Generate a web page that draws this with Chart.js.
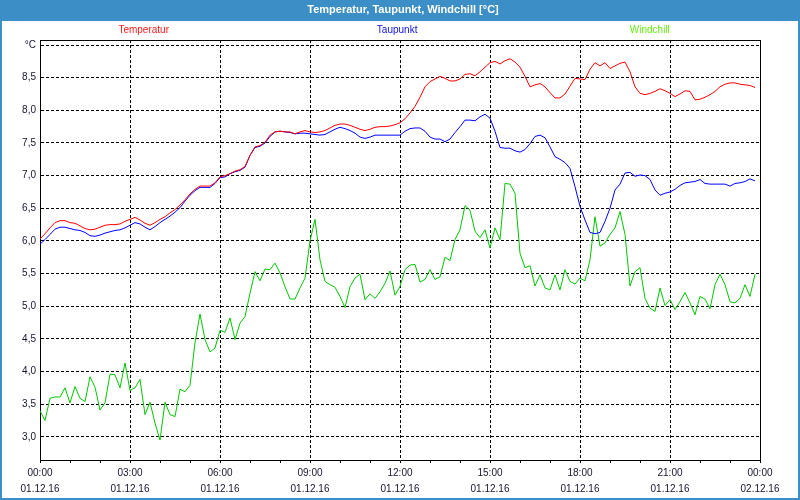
<!DOCTYPE html>
<html>
<head>
<meta charset="utf-8">
<script src="https://cdn.jsdelivr.net/npm/chart.js@4.4.1/dist/chart.umd.min.js"></script>
<style>
  html, body { margin: 0; padding: 0; background: #ffffff; }
  #wrap { position: relative; width: 800px; height: 500px; }
  canvas { display: block; }
</style>
</head>
<body>
<div id="wrap"><canvas id="c" width="800" height="500"></canvas></div>
<script>
// ---- data (10-minute samples, 01.12.16 00:00 .. 23:50) ----
const chartTitle = "Temperatur, Taupunkt, Windchill [°C]";
const seriesNames = ["Temperatur", "Taupunkt", "Windchill"];
const stepMinutes = 10;

const temperatur = [
  6.03, 6.11, 6.20, 6.28, 6.31, 6.31, 6.28, 6.27, 6.23, 6.19, 6.17, 6.18, 6.21, 6.24, 6.25, 6.25, 6.26, 6.30,
  6.33, 6.36, 6.32, 6.27, 6.24, 6.28, 6.33, 6.37, 6.43, 6.48, 6.55, 6.63, 6.72, 6.79, 6.84, 6.84, 6.84, 6.89,
  6.98, 7.00, 7.03, 7.07, 7.09, 7.14, 7.31, 7.44, 7.46, 7.51, 7.62, 7.67, 7.68, 7.67, 7.67, 7.64, 7.67, 7.69,
  7.67, 7.66, 7.67, 7.69, 7.73, 7.77, 7.79, 7.79, 7.77, 7.74, 7.71, 7.69, 7.71, 7.74, 7.75, 7.75, 7.76, 7.78,
  7.81, 7.87, 7.96, 8.06, 8.20, 8.36, 8.44, 8.48, 8.52, 8.49, 8.45, 8.45, 8.48, 8.55, 8.56, 8.53, 8.59, 8.66,
  8.73, 8.75, 8.71, 8.76, 8.79, 8.74, 8.66, 8.52, 8.36, 8.39, 8.41, 8.36, 8.27, 8.19, 8.19, 8.25, 8.37, 8.49,
  8.48, 8.47, 8.63, 8.73, 8.68, 8.73, 8.64, 8.68, 8.72, 8.74, 8.59, 8.36, 8.26, 8.24, 8.26, 8.29, 8.33, 8.30,
  8.26, 8.21, 8.25, 8.30, 8.29, 8.16, 8.17, 8.20, 8.24, 8.29, 8.36, 8.40, 8.42, 8.42, 8.40, 8.39, 8.38, 8.35
];
const taupunkt = [
  5.95, 6.02, 6.10, 6.18, 6.21, 6.21, 6.19, 6.17, 6.16, 6.13, 6.08, 6.07, 6.09, 6.12, 6.14, 6.16, 6.17, 6.20,
  6.24, 6.28, 6.26, 6.21, 6.17, 6.22, 6.28, 6.33, 6.38, 6.44, 6.51, 6.61, 6.70, 6.77, 6.82, 6.82, 6.82, 6.88,
  6.97, 6.98, 7.03, 7.06, 7.08, 7.13, 7.31, 7.43, 7.45, 7.50, 7.60, 7.67, 7.68, 7.67, 7.66, 7.64, 7.65, 7.65,
  7.64, 7.63, 7.62, 7.63, 7.67, 7.71, 7.74, 7.72, 7.69, 7.65, 7.59, 7.57, 7.59, 7.62, 7.62, 7.62, 7.62, 7.62,
  7.62, 7.68, 7.72, 7.73, 7.73, 7.68, 7.59, 7.56, 7.56, 7.52, 7.56, 7.66, 7.75, 7.85, 7.85, 7.84, 7.90, 7.94,
  7.88, 7.68, 7.43, 7.42, 7.42, 7.38, 7.36, 7.40, 7.49, 7.60, 7.62, 7.58, 7.44, 7.29, 7.25, 7.20, 7.11, 6.83,
  6.53, 6.32, 6.13, 6.11, 6.13, 6.30, 6.50, 6.78, 6.87, 7.04, 7.05, 6.99, 7.01, 7.00, 6.94, 6.78, 6.70, 6.73,
  6.75, 6.79, 6.85, 6.89, 6.90, 6.91, 6.94, 6.88, 6.87, 6.87, 6.87, 6.87, 6.84, 6.88, 6.89, 6.91, 6.95, 6.92
];
const windchill = [
  3.40, 3.25, 3.59, 3.61, 3.61, 3.75, 3.52, 3.77, 3.59, 3.54, 3.92, 3.76, 3.41, 3.52, 3.96, 3.95, 3.75, 4.13,
  3.71, 3.75, 3.88, 3.34, 3.53, 3.21, 2.95, 3.53, 3.34, 3.31, 3.73, 3.69, 3.79, 4.44, 4.88, 4.49, 4.30, 4.36,
  4.63, 4.60, 4.82, 4.49, 4.74, 4.84, 5.20, 5.53, 5.39, 5.57, 5.56, 5.66, 5.51, 5.30, 5.11, 5.11, 5.28, 5.43,
  6.00, 6.33, 5.71, 5.38, 5.33, 5.29, 5.15, 4.98, 5.30, 5.43, 5.49, 5.10, 5.19, 5.12, 5.22, 5.35, 5.54, 5.17,
  5.30, 5.56, 5.63, 5.64, 5.37, 5.41, 5.56, 5.41, 5.45, 5.75, 5.70, 6.02, 6.17, 6.54, 6.47, 6.15, 6.05, 6.17,
  5.89, 6.20, 6.02, 6.88, 6.87, 6.73, 5.81, 5.59, 5.62, 5.31, 5.48, 5.28, 5.25, 5.48, 5.25, 5.56, 5.38, 5.34,
  5.43, 5.39, 5.71, 6.37, 5.92, 5.97, 6.10, 6.20, 6.45, 6.10, 5.31, 5.53, 5.59, 5.12, 4.97, 4.92, 5.28, 5.01,
  5.10, 4.95, 5.07, 5.21, 5.05, 4.87, 5.15, 5.11, 4.96, 5.33, 5.49, 5.33, 5.07, 5.05, 5.12, 5.33, 5.15, 5.49
];

const xTickHours = [0,1,2,3,4,5,6,7,8,9,10,11,12,13,14,15,16,17,18,19,20,21,22,23,24];
const xTickLabels = [
  ["00:00","01.12.16"], ["03:00","01.12.16"], ["06:00","01.12.16"], ["09:00","01.12.16"],
  ["12:00","01.12.16"], ["15:00","01.12.16"], ["18:00","01.12.16"], ["21:00","01.12.16"],
  ["00:00","02.12.16"]
];
const yTicks = [3.0, 3.5, 4.0, 4.5, 5.0, 5.5, 6.0, 6.5, 7.0, 7.5, 8.0, 8.5, 9.0];
const yUnitLabel = "°C";

// ---- build ----
const toPoints = arr => arr.map((v, i) => ({ x: i * stepMinutes / 60, y: v }));

const FONT = "'Liberation Sans', 'DejaVu Sans', sans-serif";
const BLUE_FRAME = '#3c8fc6';

const framePlugin = {
  id: 'frame',
  beforeDraw(chart) {
    const ctx = chart.ctx;
    ctx.save();
    ctx.fillStyle = '#ffffff';
    ctx.fillRect(0, 0, chart.width, chart.height);
    ctx.fillStyle = BLUE_FRAME;
    ctx.fillRect(0, 0, chart.width, 21);
    ctx.restore();
  },
  afterDraw(chart) {
    const ctx = chart.ctx;
    const a = chart.chartArea;
    ctx.save();
    ctx.strokeStyle = '#000';
    ctx.lineWidth = 1;
    ctx.beginPath();
    ctx.moveTo(Math.round(a.left) + 0.5, Math.round(a.top) + 0.5);
    ctx.lineTo(Math.round(a.right) + 0.5, Math.round(a.top) + 0.5);
    ctx.lineTo(Math.round(a.right) + 0.5, Math.round(a.bottom) + 0.5);
    ctx.stroke();
    ctx.strokeStyle = BLUE_FRAME;
    ctx.lineWidth = 2;
    ctx.strokeRect(1, 1, chart.width - 2, chart.height - 2);
    ctx.fillStyle = '#ffffff';
    ctx.font = "bold 11px 'Liberation Sans Narrow', 'Liberation Sans', sans-serif";
    ctx.textAlign = 'center';
    ctx.textBaseline = 'middle';
    ctx.fillText(chartTitle, 403, 10);
    const cols = ['#ff1a1a', '#1010e0', '#66ee11'];
    const fr = [0.144, 0.496, 0.847];
    ctx.font = "10px 'Liberation Sans Narrow', 'Liberation Sans', sans-serif";
    seriesNames.forEach((n, i) => {
      ctx.fillStyle = cols[i];
      ctx.fillText(n, a.left + (a.right - a.left) * fr[i], 30);
    });
    ctx.restore();
  }
};

new Chart(document.getElementById('c'), {
  type: 'line',
  data: {
    datasets: [
      { label: seriesNames[0], data: toPoints(temperatur), borderColor: '#ff0000', borderWidth: 1, pointRadius: 0, tension: 0 },
      { label: seriesNames[1], data: toPoints(taupunkt), borderColor: '#0000ff', borderWidth: 1, pointRadius: 0, tension: 0 },
      { label: seriesNames[2], data: toPoints(windchill), borderColor: '#00c800', borderWidth: 1, pointRadius: 0, tension: 0 }
    ]
  },
  options: {
    responsive: false,
    animation: false,
    events: [],
    layout: { padding: { top: 40, right: 40, left: 0, bottom: 0 } },
    plugins: { legend: { display: false }, title: { display: false }, tooltip: { enabled: false } },
    scales: {
      x: {
        type: 'linear',
        min: 0, max: 24,
        afterFit(scale) { scale.height = 40; },
        afterBuildTicks(scale) { scale.ticks = xTickHours.map(v => ({ value: v })); },
        ticks: {
          autoSkip: false, maxRotation: 0, minRotation: 0, padding: 2,
          color: '#151530',
          font: { family: FONT, size: 10, lineHeight: 1.6 },
          callback: (v) => (v % 3 === 0 ? xTickLabels[v / 3] : '')
        },
        grid: {
          color: (ctx) => (ctx.tick && ctx.tick.value % 3 === 0 ? '#000000' : 'rgba(0,0,0,0)'),
          lineWidth: 1,
          drawTicks: true, tickLength: 3, tickColor: '#000000', tickWidth: 1
        },
        border: { display: true, color: '#000000', width: 1, dash: [3, 2] }
      },
      y: {
        type: 'linear',
        min: 2.645, max: 9.077,
        afterFit(scale) { scale.width = 40; },
        afterBuildTicks(scale) { scale.ticks = yTicks.map(v => ({ value: v })); },
        ticks: {
          padding: 4,
          color: '#151530',
          font: { family: FONT, size: 10 },
          callback: (v) => (Math.abs(v - 9) < 1e-9 ? yUnitLabel : v.toFixed(1).replace('.', ','))
        },
        grid: { color: '#000000', lineWidth: 1, drawTicks: false },
        border: { display: true, color: '#000000', width: 1, dash: [3, 2] }
      }
    }
  },
  plugins: [framePlugin]
});
</script>
</body>
</html>
